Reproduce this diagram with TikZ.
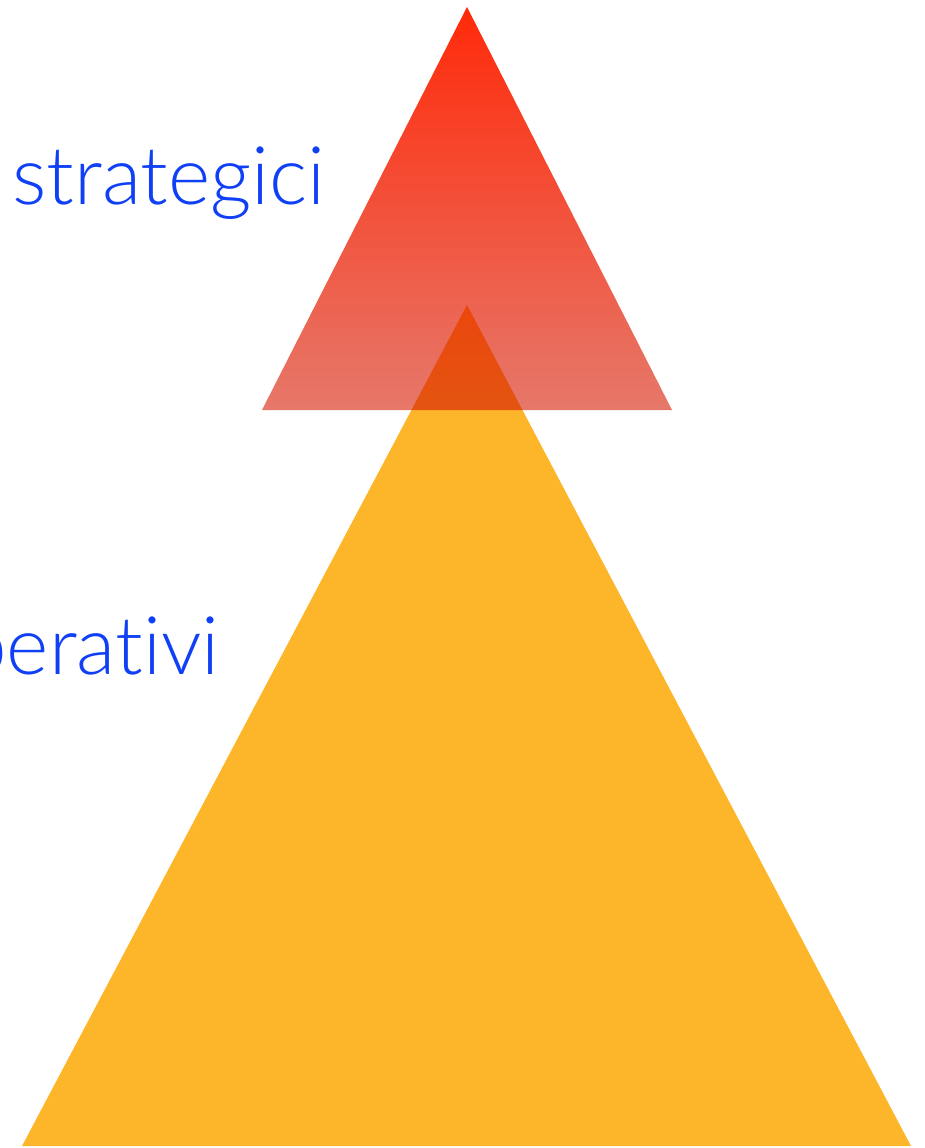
\documentclass[tikz,border=0pt]{standalone}
\usepackage{fontspec}
\setmainfont{Lato Light}[Ligatures=NoCommon]
\usetikzlibrary{positioning}
\definecolor{topred}{HTML}{FF2A0A}
\definecolor{basered}{HTML}{E6786A}
\definecolor{amber}{HTML}{FDB52A}
\definecolor{labelblue}{HTML}{1040F5}

\begin{document}
\begin{tikzpicture}[x=0.02cm, y=-0.02cm,
  lbl/.style={text=labelblue, font=\fontsize{46}{55}\selectfont, inner sep=0pt, anchor=base east}
]
  \useasboundingbox (0,0) rectangle (925,1148);
  % upper triangle
  \shade[top color=topred, bottom color=basered] (467,7) -- (672,410) -- (262,410) -- cycle;
  % lower triangle
  \begin{scope}[blend mode=multiply]
    \fill[amber] (467,305) -- (911,1146) -- (22,1146) -- cycle;
  \end{scope}
  \node[lbl] (strat) at (326,205) {strategici};
  \node[lbl] (oper) at (220,674) {perativi};
\end{tikzpicture}
\end{document}
